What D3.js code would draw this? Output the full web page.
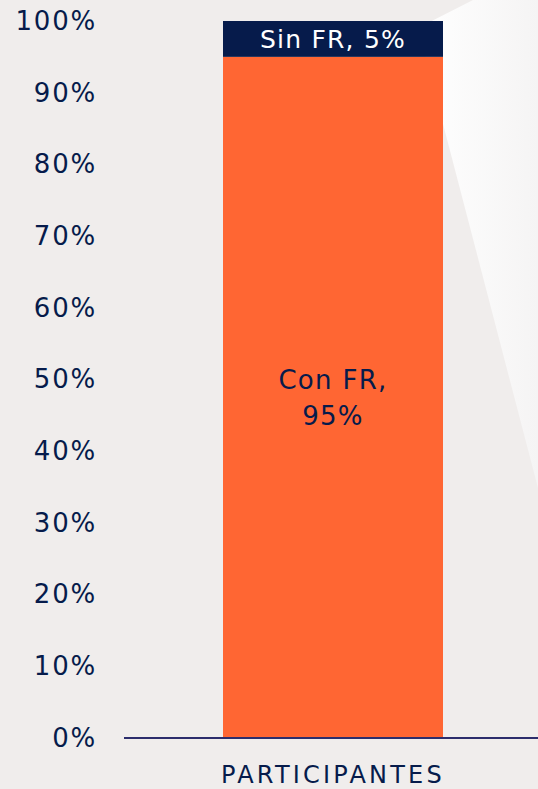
<!DOCTYPE html>
<html>
<head>
<meta charset="utf-8">
<script src="https://cdn.jsdelivr.net/npm/d3@7"></script>
<style>
  html, body { margin: 0; padding: 0; background: #f0edec; }
  svg { display: block; }
</style>
</head>
<body>
<div id="chart"></div>
<script>
// data
const categories = ["PARTICIPANTES"];
const seriesNames = ["Con FR", "Sin FR"];
const conFR = [95];
const sinFR = [5];
const tickValues = [0, 10, 20, 30, 40, 50, 60, 70, 80, 90, 100];

const width = 538, height = 789;
const navy = "#061b4b";
const orange = "#ff6633";

const svg = d3.select("#chart").append("svg")
    .attr("width", width)
    .attr("height", height)
    .attr("font-family", "'DejaVu Sans', sans-serif");

svg.append("rect").attr("width", width).attr("height", height).attr("fill", "#f0edec");

// light wedge on the right
const grad = svg.append("defs").append("linearGradient")
    .attr("id", "wedge").attr("x1", "0%").attr("x2", "100%").attr("y1", "0%").attr("y2", "0%");
grad.append("stop").attr("offset", "0%").attr("stop-color", "#ffffff");
grad.append("stop").attr("offset", "100%").attr("stop-color", "#f5f4f4");
svg.append("polygon")
    .attr("points", "473,0 538,0 538,488 418,28")
    .attr("fill", "url(#wedge)");

const y = d3.scaleLinear().domain([0, 100]).range([738, 21]);
const x = d3.scaleBand().domain(categories).range([223, 443]).padding(0);

const rows = categories.map((c, i) => ({cat: c, "Con FR": conFR[i], "Sin FR": sinFR[i]}));
const stacked = d3.stack().keys(seriesNames)(rows);
const color = d3.scaleOrdinal(seriesNames, [orange, navy]);

svg.append("g").selectAll("rect")
    .data(stacked.flatMap(s => s.map(d => ({key: s.key, d}))))
    .join("rect")
    .attr("x", v => x(v.d.data.cat))
    .attr("width", x.bandwidth())
    .attr("y", v => y(v.d[1]))
    .attr("height", v => y(v.d[0]) - y(v.d[1]))
    .attr("fill", v => color(v.key));

// y axis labels
const yAxis = d3.axisLeft(y).tickValues(tickValues).tickSize(0).tickPadding(0)
    .tickFormat(d => d + "%");
const ag = svg.append("g").attr("transform", "translate(97,0)").call(yAxis);
ag.select(".domain").remove();
ag.selectAll("text")
    .attr("font-size", 26)
    .attr("font-family", "'DejaVu Sans', sans-serif")
    .attr("letter-spacing", 1.8)
    .attr("fill", navy);

// baseline
svg.append("line")
    .attr("x1", 124).attr("x2", 538)
    .attr("y1", y(0)).attr("y2", y(0))
    .attr("stroke", "#2c2d6c").attr("stroke-width", 2);

// category label
svg.append("g").selectAll("text")
    .data(categories)
    .join("text")
    .attr("x", d => x(d) + x.bandwidth() / 2)
    .attr("y", 783)
    .attr("text-anchor", "middle")
    .attr("font-size", 24)
    .attr("letter-spacing", 3.2)
    .attr("fill", navy)
    .text(d => d);

// segment labels
const cx = x(categories[0]) + x.bandwidth() / 2;
svg.append("text")
    .attr("x", cx)
    .attr("y", y((conFR[0] + conFR[0] + sinFR[0]) / 2))
    .attr("dy", "0.36em")
    .attr("text-anchor", "middle")
    .attr("font-size", 25)
    .attr("letter-spacing", 1.2)
    .attr("fill", "#ffffff")
    .text(`Sin FR, ${sinFR[0]}%`);

const conLabel = svg.append("text")
    .attr("text-anchor", "middle")
    .attr("font-size", 26)
    .attr("letter-spacing", 1.3)
    .attr("fill", navy);
conLabel.append("tspan").attr("x", cx).attr("y", y(conFR[0] / 2)).attr("dy", "-0.33em").text("Con FR,");
conLabel.append("tspan").attr("x", cx).attr("y", y(conFR[0] / 2)).attr("dy", "1.05em").text(`${conFR[0]}%`);
</script>
</body>
</html>
